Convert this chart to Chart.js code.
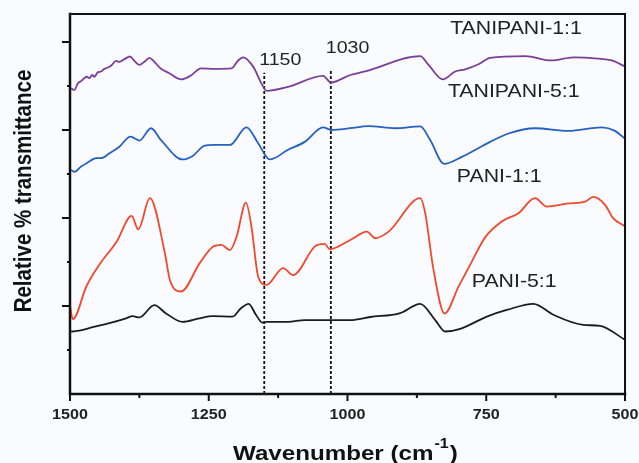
<!DOCTYPE html>
<html>
<head>
<meta charset="utf-8">
<script src="https://cdn.jsdelivr.net/npm/chart.js@4.4.1/dist/chart.umd.min.js"></script>
<style>
  html, body { margin: 0; padding: 0; background: #fafbfe; }
  #wrap { width: 639px; height: 463px; }
</style>
</head>
<body>
<div id="wrap"><canvas id="ftir"></canvas></div>
<script>
// FTIR spectra, wavenumber (cm-1) vs relative transmittance (offset, arbitrary units)
const seriesNames = ['TANIPANI-1:1', 'TANIPANI-5:1', 'PANI-1:1', 'PANI-5:1'];

const tani11Wn = [1498, 1492, 1486, 1480, 1474, 1470, 1465, 1460, 1456, 1450, 1444, 1438, 1432, 1426, 1417, 1411, 1402, 1392, 1384, 1375, 1366, 1357, 1348, 1336, 1321, 1300, 1282, 1264, 1240, 1209, 1197, 1188, 1170, 1155, 1146, 1107, 1044, 1030, 995, 968, 869, 854, 828, 806, 788, 763, 743, 680, 632, 593, 548, 524, 501];
const tani11T = [6.95, 6.91, 7.06, 7.11, 7.18, 7.21, 7.18, 7.25, 7.21, 7.31, 7.33, 7.39, 7.42, 7.46, 7.57, 7.55, 7.61, 7.67, 7.57, 7.48, 7.55, 7.64, 7.55, 7.39, 7.29, 7.15, 7.24, 7.40, 7.39, 7.40, 7.58, 7.65, 7.44, 7.06, 6.89, 6.98, 7.23, 7.08, 7.25, 7.33, 7.68, 7.48, 7.15, 7.33, 7.38, 7.50, 7.64, 7.68, 7.58, 7.65, 7.62, 7.58, 7.45];

const tani51Wn = [1498, 1492, 1480, 1468, 1453, 1444, 1429, 1411, 1391, 1375, 1354, 1336, 1297, 1279, 1258, 1240, 1212, 1182, 1161, 1140, 1107, 1077, 1044, 1029, 995, 963, 914, 869, 851, 826, 794, 743, 710, 662, 602, 542, 518, 501];
const tani51T = [5.09, 5.05, 5.17, 5.26, 5.36, 5.36, 5.47, 5.62, 5.85, 5.76, 6.04, 5.77, 5.33, 5.41, 5.64, 5.66, 5.66, 6.06, 5.70, 5.33, 5.55, 5.73, 6.06, 6.00, 6.04, 6.09, 6.04, 6.08, 5.77, 5.23, 5.39, 5.73, 5.92, 6.04, 5.98, 6.06, 5.98, 5.81];

const pani11Wn = [1500, 1495, 1470, 1446, 1416, 1389, 1377, 1356, 1329, 1320, 1300, 1266, 1242, 1227, 1212, 1200, 1183, 1173, 1161, 1146, 1116, 1098, 1059, 1041, 1032, 995, 965, 950, 926, 869, 860, 845, 825, 800, 776, 752, 722, 692, 662, 641, 602, 572, 557, 536, 521, 501];
const pani11T = [2.00, 1.70, 2.46, 2.96, 3.46, 4.05, 3.74, 4.45, 3.20, 2.59, 2.33, 2.98, 3.35, 3.39, 3.27, 3.57, 4.35, 3.80, 2.67, 2.48, 2.86, 2.70, 3.35, 3.41, 3.29, 3.50, 3.69, 3.54, 3.69, 4.45, 4.11, 2.82, 1.83, 2.44, 3.01, 3.56, 3.92, 4.11, 4.45, 4.26, 4.33, 4.37, 4.48, 4.30, 3.99, 3.82];

const pani51Wn = [1498, 1483, 1459, 1429, 1399, 1387, 1375, 1348, 1327, 1297, 1267, 1243, 1207, 1192, 1178, 1165, 1153, 1146, 1107, 1077, 995, 959, 905, 869, 842, 824, 797, 749, 713, 665, 629, 575, 545, 500];
const pani51T = [1.42, 1.44, 1.52, 1.61, 1.72, 1.77, 1.74, 2.02, 1.83, 1.64, 1.72, 1.77, 1.76, 1.95, 2.05, 1.80, 1.62, 1.64, 1.64, 1.68, 1.68, 1.75, 1.84, 2.05, 1.68, 1.42, 1.48, 1.76, 1.91, 2.05, 1.80, 1.57, 1.55, 1.23];

// dashed markers for the two bands discussed
const markerWn = [1150, 1030];
const markerTop = [7.30, 7.36];

const seriesColors = ['#7a3f98', '#2461c2', '#f2482c', '#1c1c1c'];
const FONT = '"Liberation Sans", Arial, sans-serif';
const STRETCH = 1.15;

function toPoints(wn, t) {
    return wn.map((w, i) => ({ x: w, y: t[i] }));
}

function wideText(ctx, text, x, y, font, align) {
    ctx.save();
    ctx.font = font;
    ctx.textAlign = align || 'left';
    ctx.textBaseline = 'alphabetic';
    ctx.translate(x, y);
    ctx.scale(STRETCH, 1);
    ctx.fillText(text, 0, 0);
    ctx.restore();
}

const spectra = [
    [tani11Wn, tani11T],
    [tani51Wn, tani51T],
    [pani11Wn, pani11T],
    [pani51Wn, pani51T]
].map(([wn, t], i) => ({
    label: seriesNames[i],
    data: toPoints(wn, t),
    borderColor: seriesColors[i],
    borderWidth: 1.8,
    pointRadius: 0,
    fill: false,
    cubicInterpolationMode: 'monotone'
}));

const markers = markerWn.map((w, i) => ({
    label: 'marker ' + w,
    data: [{ x: w, y: 0 }, { x: w, y: markerTop[i] }],
    borderColor: '#111',
    borderWidth: 1.8,
    borderDash: [3, 2],
    pointRadius: 0,
    fill: false
}));

// frame, tick marks and all the text
const decorations = {
    id: 'decorations',
    afterDatasetsDraw(chart) {
        const ctx = chart.ctx;
        const { left, right, top, bottom } = chart.chartArea;
        const xs = chart.scales.x;
        const ys = chart.scales.y;

        ctx.save();
        ctx.strokeStyle = '#111';
        ctx.lineCap = 'square';

        ctx.lineWidth = 2;
        ctx.beginPath();
        ctx.moveTo(left, top);
        ctx.lineTo(right, top);
        ctx.lineTo(right, bottom);
        ctx.stroke();

        ctx.lineWidth = 2.5;
        ctx.beginPath();
        ctx.moveTo(left, top);
        ctx.lineTo(left, bottom);
        ctx.lineTo(right, bottom);
        ctx.stroke();

        ctx.lineWidth = 2;
        ctx.lineCap = 'butt';
        xs.ticks.forEach(t => {
            const px = xs.getPixelForValue(t.value);
            const len = t.value % 250 === 0 ? 7 : 4;
            ctx.beginPath();
            ctx.moveTo(px, bottom);
            ctx.lineTo(px, bottom + len);
            ctx.stroke();
        });
        ys.ticks.forEach(t => {
            if (t.value === 0 || !Number.isInteger(t.value)) return;
            const py = ys.getPixelForValue(t.value);
            const len = t.value % 2 === 0 ? 8 : 3;
            ctx.beginPath();
            ctx.moveTo(left, py);
            ctx.lineTo(left - len, py);
            ctx.stroke();
        });

        ctx.fillStyle = '#222';
        xs.ticks.forEach(t => {
            if (t.value % 250 !== 0) return;
            wideText(ctx, String(t.value), xs.getPixelForValue(t.value), bottom + 24.5, 'bold 14px ' + FONT, 'center');
        });

        // band markers
        wideText(ctx, '1150', xs.getPixelForValue(markerWn[0]) - 5, ys.getPixelForValue(7.48), '17px ' + FONT, 'left');
        wideText(ctx, '1030', xs.getPixelForValue(markerWn[1]) - 5, ys.getPixelForValue(7.75), '17px ' + FONT, 'left');

        // curve names
        const labelPos = [[815, 8.18], [819, 6.75], [803, 4.82], [776, 2.43]];
        seriesNames.forEach((name, i) => {
            wideText(ctx, name, xs.getPixelForValue(labelPos[i][0]), ys.getPixelForValue(labelPos[i][1]), '18.5px ' + FONT, 'left');
        });

        // x axis title with superscript
        ctx.fillStyle = '#111';
        const base = 460;
        let x = 233;
        ctx.font = 'bold 21px ' + FONT;
        const main = 'Wavenumber (cm';
        wideText(ctx, main, x, base, 'bold 21px ' + FONT, 'left');
        x += ctx.measureText(main).width * STRETCH + 1;
        ctx.font = 'bold 14px ' + FONT;
        wideText(ctx, '-1', x, base - 12, 'bold 14px ' + FONT, 'left');
        x += ctx.measureText('-1').width * STRETCH + 1;
        wideText(ctx, ')', x, base, 'bold 21px ' + FONT, 'left');

        // y axis title, rotated
        const fs = 20.5;
        ctx.save();
        ctx.font = 'bold ' + fs + 'px ' + FONT;
        ctx.textAlign = 'center';
        ctx.textBaseline = 'alphabetic';
        ctx.translate(22.5, 191);
        ctx.scale(STRETCH, 1);
        ctx.rotate(-Math.PI / 2);
        ctx.fillText('Relative % transmittance', 0, 0.358 * fs);
        ctx.restore();

        ctx.restore();
    }
};

new Chart(document.getElementById('ftir'), {
    type: 'line',
    data: { datasets: spectra.concat(markers) },
    options: {
        responsive: true,
        maintainAspectRatio: false,
        animation: false,
        layout: { padding: { top: 14, right: 14, left: 0, bottom: 0 } },
        plugins: {
            legend: { display: false },
            tooltip: { enabled: false }
        },
        scales: {
            x: {
                type: 'linear',
                reverse: true,
                min: 500,
                max: 1500,
                ticks: { stepSize: 125, display: false },
                grid: { display: false, drawTicks: false },
                border: { display: false },
                afterFit: s => { s.height = 69; }
            },
            y: {
                min: 0,
                max: 8.636,
                ticks: { stepSize: 1, display: false, includeBounds: false },
                grid: { display: false, drawTicks: false },
                border: { display: false },
                afterFit: s => { s.width = 70; }
            }
        }
    },
    plugins: [decorations]
});
</script>
</body>
</html>
